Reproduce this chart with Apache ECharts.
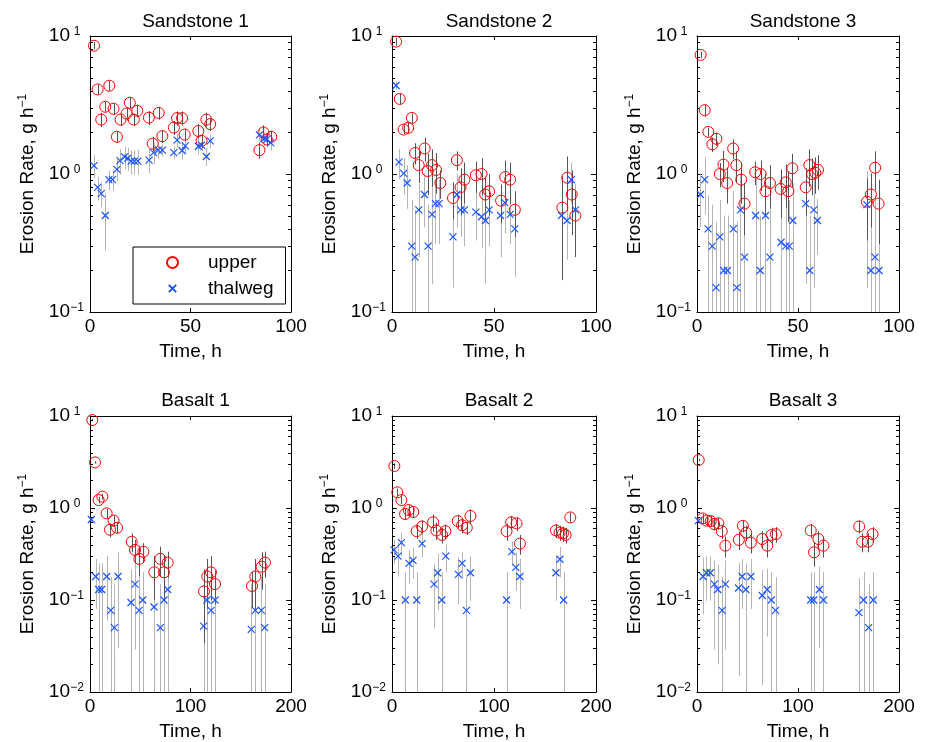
<!DOCTYPE html>
<html>
<head>
<meta charset="utf-8">
<script src="https://cdn.jsdelivr.net/npm/echarts@6/dist/echarts.min.js"></script>
<style>html,body{margin:0;padding:0;background:#fff}#c{width:925px;height:742px}</style>
</head>
<body>
<div id="c"></div>
<script>
// ---------------- DATA ----------------
const panelTitles = ['Sandstone 1','Sandstone 2','Sandstone 3','Basalt 1','Basalt 2','Basalt 3'];
const xTicksTop = [0, 50, 100];
const xTicksBottom = [0, 100, 200];
const yTicksTop = [0.1, 1, 10];
const yTicksBottom = [0.01, 0.1, 1, 10];
const minorMultipliers = [2,3,4,5,6,7,8,9];

// Sandstone 1
const s1UpT = [2.0,3.8,5.6,7.6,9.6,11.7,13.4,15.2,18.2,19.8,21.8,23.5,29.3,31.2,34.2,36.0,41.7,43.3,45.8,47.1,53.9,55.5,57.9,59.8,84.3,86.3,87.9,90.2];
const s1UpV = [8.5,4.1,2.48,3.07,4.36,2.97,1.86,2.48,2.74,3.28,2.48,2.87,2.56,1.66,2.77,1.88,2.17,2.54,2.54,1.93,2.05,1.74,2.48,2.3,1.49,2.0,1.78,1.86];
const s1UpE = [0.5,0.35,0.3,0.25,0.35,0.3,0.15,0.25,0.3,0.3,0.25,0.3,0.3,0.2,0.3,0.2,0.25,0.3,0.3,0.2,0.25,0.2,0.3,0.25,0.2,0.25,0.2,0.2];
const s1ThT = [2.0,3.8,5.6,7.6,9.4,11.2,13.4,14.9,17.2,18.8,20.5,22.1,23.8,29.4,31.6,34.0,36.0,41.7,43.3,45.8,47.4,53.9,55.5,57.9,59.8,84.3,86.6,87.9,89.9];
const s1ThV = [1.15,0.80,0.72,0.50,0.91,0.91,1.08,1.25,1.33,1.30,1.24,1.24,1.24,1.26,1.43,1.49,1.49,1.43,1.76,1.48,1.6,1.59,1.62,1.34,1.74,1.92,1.8,1.78,1.69];
const s1ThE = [0.22,0.16,0.15,0.22,0.15,0.15,0.2,0.26,0.25,0.25,0.25,0.25,0.25,0.25,0.25,0.2,0.15,0.15,0.2,0.2,0.2,0.2,0.15,0.2,0.2,0.2,0.2,0.2,0.2];

// Sandstone 2
const s2UpT = [2.0,3.8,5.7,7.9,9.7,11.3,13.1,16.0,17.5,19.6,21.6,23.7,29.9,31.8,33.6,35.5,41.1,43.9,45.7,47.6,53.5,55.5,57.9,60.2,83.5,85.9,88.1,89.9];
const s2UpV = [9.1,3.5,2.1,2.16,2.55,1.42,1.16,1.53,1.05,1.16,1.07,0.86,0.67,1.26,0.80,0.91,0.98,1.0,0.71,0.75,0.64,0.95,0.91,0.55,0.57,0.94,0.71,0.50];
const s2UpE = [0.6,0.3,0.15,0.2,0.2,0.25,0.3,0.3,0.35,0.35,0.35,0.2,0.2,0.2,0.3,0.3,0.25,0.3,0.25,0.25,0.2,0.3,0.3,0.2,0.4,0.4,0.35,0.25];
const s2ThT = [2.0,3.4,5.7,7.4,9.7,11.3,13.1,15.9,17.7,19.6,21.3,23.1,29.9,31.8,33.6,35.5,41.1,43.9,45.8,47.6,53.2,55.3,57.9,60.2,83.1,85.8,87.9,89.9];
const s2ThV = [4.38,1.22,1.01,0.86,0.30,0.25,0.55,0.71,0.30,0.51,0.61,0.61,0.35,0.71,0.55,0.55,0.53,0.49,0.46,0.55,0.50,0.62,0.51,0.40,0.50,0.46,0.91,0.55];
const s2ThE = [0.3,0.3,0.3,0.3,0.35,0.3,0.3,0.3,0.3,0.35,0.3,0.3,0.2,0.3,0.2,0.25,0.2,0.2,0.3,0.25,0.25,0.25,0.2,0.22,0.25,0.22,0.3,0.3];

// Sandstone 3
const s3UpT = [1.8,3.8,5.6,7.6,9.6,11.3,13.1,14.9,17.9,19.5,21.9,23.5,28.8,31.5,33.9,36.1,41.4,43.9,45.2,47.2,53.8,55.6,57.0,58.6,59.9,84.1,86.1,88.2,89.9];
const s3UpV = [7.3,2.9,2.02,1.64,1.8,1.0,1.17,0.86,1.53,1.16,0.91,0.61,1.03,1.0,0.75,0.86,0.78,0.87,0.75,1.1,0.80,1.16,1.0,1.02,1.07,0.63,0.71,1.11,0.61];
const s3UpE = [0.4,0.3,0.15,0.2,0.2,0.2,0.3,0.25,0.25,0.3,0.3,0.25,0.2,0.25,0.25,0.3,0.3,0.3,0.3,0.3,0.3,0.35,0.3,0.3,0.3,0.3,0.3,0.35,0.3];
const s3ThT = [1.7,3.8,5.5,7.5,9.4,11.3,13.2,15.1,18.0,19.7,21.5,23.5,29.0,31.3,33.9,36.1,41.6,43.9,45.7,47.4,53.8,55.8,57.8,59.6,84.1,86.1,88.1,90.1];
const s3ThV = [0.71,0.91,0.40,0.30,0.15,0.35,0.20,0.20,0.40,0.15,0.55,0.25,0.50,0.20,0.50,0.25,0.32,0.30,0.30,0.46,0.61,0.20,0.55,0.46,0.60,0.20,0.25,0.20];
const s3ThE = [0.3,0.4,0.3,0.3,0.3,0.3,0.3,0.3,0.35,0.3,0.45,0.3,0.45,0.3,0.4,0.3,0.3,0.3,0.35,0.4,0.45,0.3,0.4,0.2,0.45,0.45,0.45,0.4];

// Basalt 1
const b1UpT = [2.3,5.0,8.6,12.3,16.6,19.9,23.5,26.9,41.5,44.8,49.1,53.1,64.0,70.0,73.6,77.3,113.4,116.7,120.4,124.4,161.2,164.5,170.8,174.1];
const b1UpV = [9.05,3.13,1.22,1.33,0.875,0.58,0.73,0.61,0.43,0.35,0.28,0.335,0.20,0.28,0.20,0.255,0.124,0.18,0.20,0.149,0.142,0.18,0.23,0.255];
const b1UpE = [0.3,0.1,0.1,0.1,0.1,0.1,0.1,0.08,0.1,0.1,0.1,0.08,0.1,0.1,0.1,0.08,0.09,0.1,0.1,0.06,0.06,0.1,0.1,0.08];
const b1ThT = [1.3,5.6,8.6,11.6,16.6,20.6,24.2,27.9,40.8,44.8,48.8,52.4,63.7,70.0,73.6,77.3,113.1,116.4,120.4,124.4,160.5,164.5,170.5,173.8];
const b1ThV = [0.75,0.18,0.13,0.13,0.18,0.077,0.05,0.18,0.094,0.149,0.077,0.10,0.084,0.05,0.10,0.13,0.052,0.10,0.077,0.10,0.048,0.077,0.077,0.05];
const b1ThE = [0.05,0.1,0.12,0.12,0.12,0.1,0.1,0.15,0.12,0.12,0.1,0.1,0.1,0.1,0.12,0.12,0.1,0.12,0.1,0.1,0.1,0.1,0.1,0.1];

// Basalt 2
const b2UpT = [2.3,5.2,9.2,12.8,16.4,20.9,24.2,29.5,40.3,43.5,49.1,52.4,64.5,68.7,73.3,76.9,112.3,116.9,122.1,125.4,160.7,164.3,167.6,170.2,174.8];
const b2UpV = [2.86,1.48,1.22,0.86,0.95,0.905,0.56,0.63,0.70,0.57,0.51,0.56,0.72,0.65,0.61,0.82,0.56,0.70,0.68,0.41,0.57,0.54,0.53,0.51,0.79];
const b2UpE = [0.2,0.15,0.12,0.12,0.12,0.12,0.1,0.1,0.15,0.12,0.1,0.1,0.12,0.12,0.1,0.15,0.12,0.12,0.12,0.1,0.1,0.1,0.1,0.1,0.1];
const b2ThT = [2.0,5.9,9.2,13.1,16.7,20.6,24.2,29.5,41.2,44.8,48.8,52.7,65.1,68.7,73.0,76.9,112.3,117.5,121.4,125.4,160.7,164.6,168.2];
const b2ThV = [0.35,0.30,0.42,0.10,0.25,0.27,0.10,0.41,0.149,0.198,0.10,0.30,0.19,0.25,0.077,0.198,0.10,0.335,0.226,0.18,0.198,0.277,0.10];
const b2ThE = [0.1,0.12,0.12,0.1,0.1,0.1,0.1,0.12,0.1,0.12,0.1,0.1,0.1,0.08,0.1,0.1,0.1,0.1,0.1,0.1,0.1,0.1,0.1];

// Basalt 3
const b3UpT = [1.7,5.6,9.6,13.6,16.9,21.2,24.5,28.1,41.4,45.4,48.7,53.3,64.6,69.5,73.8,78.1,112.6,115.9,120.2,125.2,160.6,163.6,169.2,173.8];
const b3UpV = [3.32,0.77,0.73,0.72,0.67,0.68,0.56,0.39,0.45,0.64,0.54,0.42,0.46,0.39,0.51,0.52,0.57,0.33,0.46,0.39,0.63,0.43,0.43,0.52];
const b3UpE = [0.1,0.1,0.1,0.1,0.1,0.1,0.1,0.1,0.1,0.1,0.1,0.1,0.1,0.1,0.1,0.1,0.1,0.1,0.1,0.1,0.1,0.1,0.1,0.1];
const b3ThT = [1.3,6.0,9.3,13.2,17.2,20.5,24.8,28.1,41.1,44.7,48.3,53.3,64.6,69.5,73.5,77.8,112.6,115.6,121.2,125.2,160.3,164.9,169.9,174.5];
const b3ThV = [0.73,0.18,0.198,0.198,0.149,0.13,0.077,0.149,0.135,0.18,0.13,0.18,0.112,0.13,0.10,0.077,0.10,0.10,0.13,0.10,0.073,0.10,0.05,0.10];
const b3ThE = [0.05,0.11,0.1,0.1,0.12,0.11,0.1,0.12,0.12,0.1,0.12,0.1,0.1,0.09,0.1,0.1,0.1,0.1,0.1,0.1,0.1,0.1,0.1,0.1];

// ---------------- LAYOUT ----------------
const FONT = '"Liberation Sans", Arial, Helvetica, sans-serif';
const FS = 19;
const RED = '#ff0000', BLUE = '#1a55ff';
const UPBAR = '#555555', THBAR = '#b4b4b4';
const cols = [{left:90,width:201},{left:392,width:204},{left:697,width:202}];
const rows = [{top:36,height:276,titleTop:7},{top:416,height:276,titleTop:386}];

const panels = [
  {up:[s1UpT,s1UpV,s1UpE], th:[s1ThT,s1ThV,s1ThE]},
  {up:[s2UpT,s2UpV,s2UpE], th:[s2ThT,s2ThV,s2ThE]},
  {up:[s3UpT,s3UpV,s3UpE], th:[s3ThT,s3ThV,s3ThE]},
  {up:[b1UpT,b1UpV,b1UpE], th:[b1ThT,b1ThV,b1ThE]},
  {up:[b2UpT,b2UpV,b2UpE], th:[b2ThT,b2ThV,b2ThE]},
  {up:[b3UpT,b3UpV,b3UpE], th:[b3ThT,b3ThV,b3ThE]}
];

function zip3(a){ return a[0].map((t,i)=>[t, a[1][i], a[2][i]]); }
function supFmt(v){
  const ex = Math.round(Math.log10(v));
  return '{b|10}{e|' + (ex < 0 ? '\u2212' : '') + Math.abs(ex) + '}';
}
const supStyle = {fontSize:12, fontFamily:FONT, color:'#000', padding:[0,0,9,0]};

const grids=[], xAxes=[], yAxes=[], series=[], titles=[];
panels.forEach((p, i) => {
  const r = Math.floor(i/3), c = i%3;
  const col = cols[c], row = rows[r];
  const xt = r === 0 ? xTicksTop : xTicksBottom;
  const yt = r === 0 ? yTicksTop : yTicksBottom;
  const xMin = xt[0], xMax = xt[xt.length-1], xInt = xt[1]-xt[0];
  const yMin = yt[0], yMax = yt[yt.length-1];
  grids.push({left:col.left, top:row.top, width:col.width, height:row.height, containLabel:false});
  titles.push({text:panelTitles[i], left: col.left + col.width/2, top: row.titleTop, textAlign:'center',
    textStyle:{fontSize:FS, fontWeight:'normal', color:'#000', fontFamily:FONT}});
  const axLine = {show:true, onZero:false, lineStyle:{color:'#000', width:1}};
  xAxes.push({gridIndex:i, type:'value', min:xMin, max:xMax, interval:xInt, position:'bottom',
    axisLine:axLine, axisTick:{show:true, inside:true, length:4, lineStyle:{color:'#000'}},
    axisLabel:{color:'#000', fontSize:FS, fontFamily:FONT, margin:5},
    splitLine:{show:false}, name:'Time, h', nameLocation:'middle', nameGap:30,
    nameTextStyle:{color:'#000', fontSize:FS, fontFamily:FONT}});
  xAxes.push({gridIndex:i, type:'value', min:xMin, max:xMax, interval:xInt, position:'top',
    axisLine:axLine, axisTick:{show:true, inside:true, length:4, lineStyle:{color:'#000'}},
    axisLabel:{show:false}, splitLine:{show:false}});
  yAxes.push({gridIndex:i, type:'log', logBase:10, min:yMin, max:yMax, position:'left',
    axisLine:axLine, axisTick:{show:true, inside:true, length:5, lineStyle:{color:'#000'}},
    axisLabel:{formatter:supFmt, margin:6, color:'#000',
      rich:{b:{fontSize:FS, fontFamily:FONT, color:'#000'},
            e:Object.assign({width:14, align:'left'}, supStyle)}},
    splitLine:{show:false}, minorTick:{show:false},
    name:'{n|Erosion Rate, g h}{e|\u22121}', nameLocation:'middle', nameGap:52, nameRotate:90,
    nameTextStyle:{color:'#000', rich:{n:{fontSize:FS, fontFamily:FONT, color:'#000'}, e:supStyle}}});
  yAxes.push({gridIndex:i, type:'log', logBase:10, min:yMin, max:yMax, position:'right',
    axisLine:axLine, axisTick:{show:true, inside:true, length:5, lineStyle:{color:'#000'}},
    axisLabel:{show:false}, splitLine:{show:false}});

  const xi = 2*i, yi = 2*i;
  function errRender(color){
    return function(params, api){
      const t = api.value(0), v = api.value(1), e = api.value(2);
      const lo = Math.max(v - e, yMin), hi = Math.min(v + e, yMax);
      const p1 = api.coord([t, lo]), p2 = api.coord([t, hi]);
      const x = Math.round(p1[0]) + 0.5;
      return {type:'line', shape:{x1:x, y1:p1[1], x2:x, y2:p2[1]}, style:{stroke:color, lineWidth:1}};
    };
  }
  series.push({type:'custom', name:'thalweg-err', xAxisIndex:xi, yAxisIndex:yi, z:2, silent:true, clip:false,
    dimensions:['t','v','e'], encode:{x:0, y:1}, data:zip3(p.th), renderItem:errRender(THBAR)});
  series.push({type:'custom', name:'upper-err', xAxisIndex:xi, yAxisIndex:yi, z:2, silent:true, clip:false,
    dimensions:['t','v','e'], encode:{x:0, y:1}, data:zip3(p.up), renderItem:errRender(UPBAR)});

  // minor log ticks (left and right, inside)
  const minorVals = [];
  for (let k = 0; k < yt.length-1; k++) minorMultipliers.forEach(m => minorVals.push([xMin, yt[k]*m]));
  series.push({type:'custom', name:'minor', xAxisIndex:xi, yAxisIndex:yi, z:3, silent:true, clip:false,
    data:minorVals, encode:{x:0, y:1},
    renderItem:function(params, api){
      const cs = params.coordSys;
      const pt = api.coord([xMin, api.value(1)]);
      const y = Math.round(pt[1]) + 0.5;
      return {type:'group', children:[
        {type:'line', shape:{x1:cs.x, y1:y, x2:cs.x+3, y2:y}, style:{stroke:'#000', lineWidth:1}},
        {type:'line', shape:{x1:cs.x+cs.width-3, y1:y, x2:cs.x+cs.width, y2:y}, style:{stroke:'#000', lineWidth:1}}
      ]};
    }});

  series.push({type:'scatter', name:'upper', xAxisIndex:xi, yAxisIndex:yi, z:4, silent:true,
    symbol:'circle', symbolSize:11,
    itemStyle:{color:'rgba(0,0,0,0)', borderColor:RED, borderWidth:1, opacity:1},
    data:p.up[0].map((t,j)=>[t, p.up[1][j]])});
  series.push({type:'scatter', name:'thalweg', xAxisIndex:xi, yAxisIndex:yi, z:4, silent:true,
    symbol:'path://M0,0L10,10M10,0L0,10', symbolSize:7,
    itemStyle:{color:'rgba(0,0,0,0)', borderColor:BLUE, borderWidth:1.2, opacity:1},
    data:p.th[0].map((t,j)=>[t, p.th[1][j]])});
});

const chart = echarts.init(document.getElementById('c'), null, {renderer:'canvas'});
chart.setOption({
  animation:false,
  backgroundColor:'#fff',
  textStyle:{fontFamily:FONT},
  title:titles,
  legend:{data:[{name:'upper'}, {name:'thalweg', icon:'path://M-2.5,-2.5M12.5,12.5M0,0L10,10M10,0L0,10'}],
    orient:'vertical', left:133, top:247,
    backgroundColor:'#fff', borderColor:'#000', borderWidth:1, borderRadius:0,
    padding:[6,12,6,33], itemGap:7, itemWidth:11, itemHeight:11, selectedMode:false,
    textStyle:{fontSize:FS, color:'#000', fontFamily:FONT, padding:[0,0,0,25]}},
  grid:grids, xAxis:xAxes, yAxis:yAxes, series:series
});
</script>
</body>
</html>
